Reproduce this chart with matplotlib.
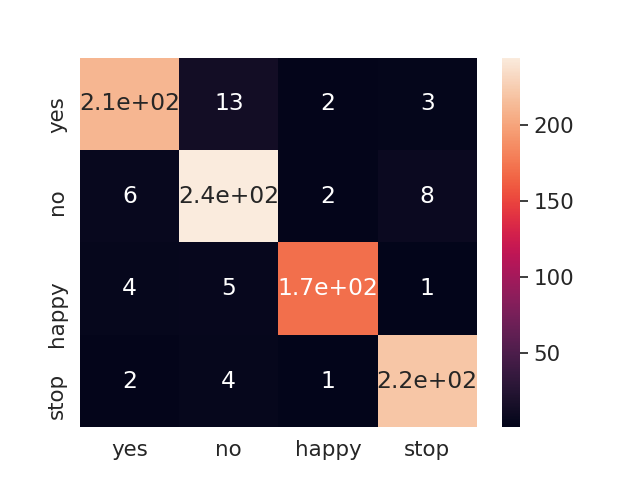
import matplotlib
matplotlib.use("Agg")
import matplotlib.pyplot as plt
import seaborn as sns
import numpy as np

labels = ["yes", "no", "happy", "stop"]
row_yes = [210, 13, 2, 3]
row_no = [6, 244, 2, 8]
row_happy = [4, 5, 170, 1]
row_stop = [2, 4, 1, 220]

cm = np.array([row_yes, row_no, row_happy, row_stop])

sns.set(font_scale=1.4)
fig = plt.figure(figsize=(6.4, 4.8), dpi=100)
ax = sns.heatmap(cm, annot=True, xticklabels=labels, yticklabels=labels)
plt.setp(ax.get_yticklabels(), va="center_baseline")
fig.savefig("out.png", dpi=100)
